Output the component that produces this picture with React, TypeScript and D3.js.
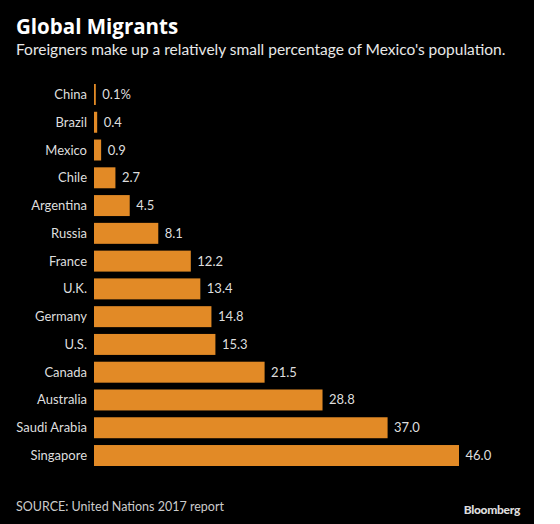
import React from "react";
import * as d3 from "d3";

const countries = ["China", "Brazil", "Mexico", "Chile", "Argentina", "Russia", "France", "U.K.", "Germany", "U.S.", "Canada", "Australia", "Saudi Arabia", "Singapore"];
const shares = [0.1, 0.4, 0.9, 2.7, 4.5, 8.1, 12.2, 13.4, 14.8, 15.3, 21.5, 28.8, 37.0, 46.0];
const valueLabels = ["0.1%", "0.4", "0.9", "2.7", "4.5", "8.1", "12.2", "13.4", "14.8", "15.3", "21.5", "28.8", "37.0", "46.0"];

const W = 560;
const H = 524;
const FONT = "Lato, 'Open Sans', sans-serif";

export default function App() {
  const x = d3.scaleLinear().domain([0, 46]).range([94, 459]);
  const y = d3.scaleBand<string>().domain(countries).range([80.6, 469.4]).paddingInner(0.245).paddingOuter(0.1225);
  const bw = y.bandwidth();
  return (
    <svg width={W} height={H} style={{ position: "absolute", left: 0, top: 0 }} fontFamily={FONT}>
      <rect x={0} y={0} width={W} height={H} fill="#ffffff" />
      <rect x={0} y={0} width={534} height={H} fill="#000000" />
      <text x={16} y={33.7} fill="#ffffff" fontSize={20.5} fontWeight={700} fontFamily="'Open Sans', sans-serif">Global Migrants</text>
      <text x={16} y={55} fill="#e8e8e8" fontSize={15.5}>Foreigners make up a relatively small percentage of Mexico's population.</text>
      {countries.map((c, i) => {
        const yy = y(c) as number;
        const w = Math.max(x(shares[i]) - x(0), 1.8);
        return (
          <g key={c}>
            <rect x={x(0)} y={yy} width={w} height={bw} fill="#e28a26" />
            <text x={87} y={yy + bw / 2 + 4.5} textAnchor="end" fill="#dedede" fontSize={13}>{c}</text>
            <text x={x(0) + w + 6.5} y={yy + bw / 2 + 4.5} fill="#dedede" fontSize={13}>{valueLabels[i]}</text>
          </g>
        );
      })}
      <text x={16} y={510.7} fill="#cccccc" fontSize={12.5}>SOURCE: United Nations 2017 report</text>
      <text x={520} y={514} textAnchor="end" fill="#dddddd" fontSize={12} fontWeight={900} letterSpacing={-0.3}>Bloomberg</text>
    </svg>
  );
}
